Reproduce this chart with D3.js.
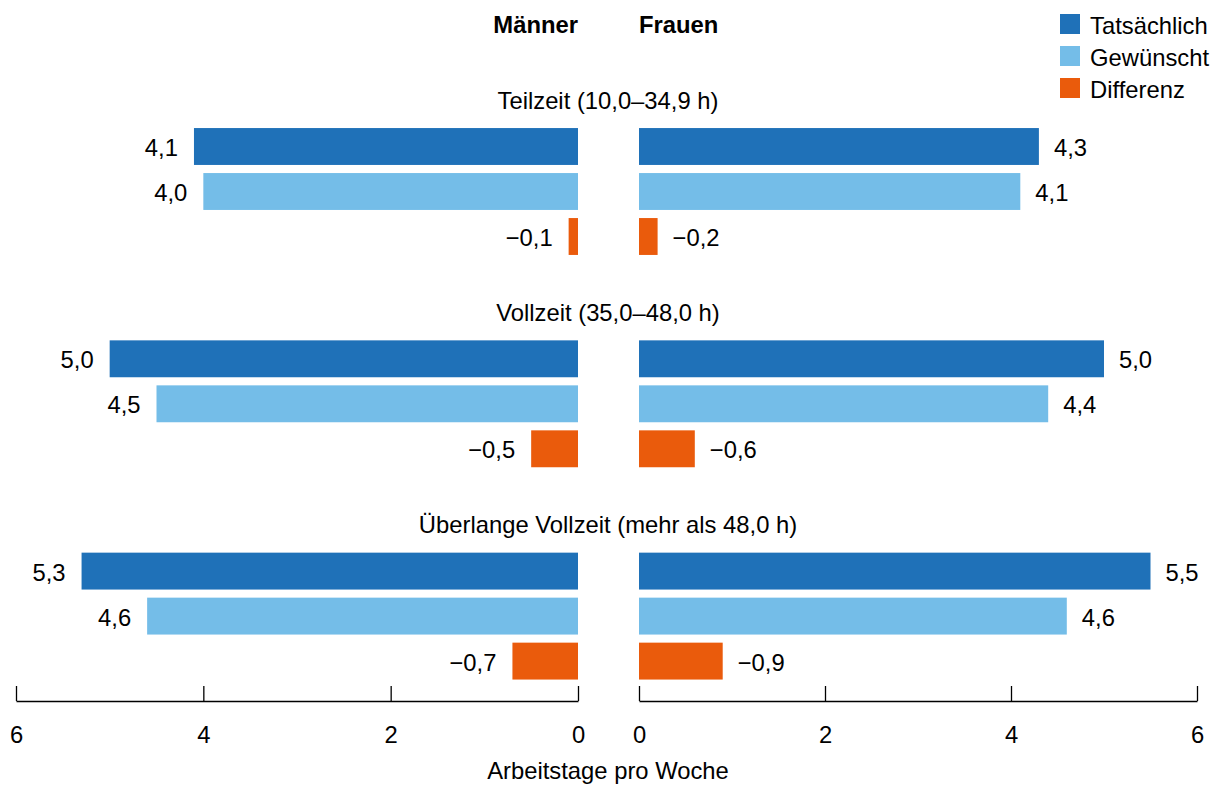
<!DOCTYPE html>
<html>
<head>
<meta charset="utf-8">
<script src="https://cdn.jsdelivr.net/npm/d3@7"></script>
<style>
  body { margin: 0; background: #fff; }
  text { font-family: "Liberation Sans", Arial, sans-serif; fill: #000; }
</style>
</head>
<body>
<div id="chart"></div>
<script>
// Data
const groups = ["Teilzeit (10,0–34,9 h)", "Vollzeit (35,0–48,0 h)", "Überlange Vollzeit (mehr als 48,0 h)"];
const series = ["Tatsächlich", "Gewünscht", "Differenz"];
const men = [[4.1, 4.0, -0.1], [5.0, 4.5, -0.5], [5.3, 4.6, -0.7]];
const women = [[4.3, 4.1, -0.2], [5.0, 4.4, -0.6], [5.5, 4.6, -0.9]];
const xTicks = [0, 2, 4, 6];

const colors = ["#1f71b8", "#74bde8", "#ea5b0c"];
const fontSize = 23.8;

const width = 1220, height = 785;
const svg = d3.select("#chart").append("svg")
    .attr("width", width)
    .attr("height", height);

// Scales
const xLeft = d3.scaleLinear().domain([0, 6]).range([578, 16]);
const xRight = d3.scaleLinear().domain([0, 6]).range([639, 1197]);

const yGroup = d3.scaleBand().domain(groups).range([84, 84 + 3 * 212.3]);
const yInner = d3.scaleBand().domain(series).range([0, 135])
    .paddingInner(0.18).paddingOuter(0.09);

const fmt = v => (v < 0 ? "\u2212" : "") + d3.format(".1f")(Math.abs(v)).replace(".", ",");

// Headers
svg.append("text")
    .attr("x", 578).attr("y", 24).attr("dy", "0.36em")
    .attr("text-anchor", "end")
    .style("font-size", fontSize + "px").style("font-weight", "bold")
    .text("Männer");
svg.append("text")
    .attr("x", 639).attr("y", 24).attr("dy", "0.36em")
    .style("font-size", fontSize + "px").style("font-weight", "bold")
    .text("Frauen");

// Groups
groups.forEach((g, gi) => {
    const g0 = yGroup(g);
    svg.append("text")
        .attr("x", 608).attr("y", g0 + 16).attr("dy", "0.36em")
        .attr("text-anchor", "middle")
        .style("font-size", fontSize + "px")
        .text(g);

    const top = g0 + 40;
    series.forEach((s, si) => {
        const vm = men[gi][si], vw = women[gi][si];
        const y = top + yInner(s), h = yInner.bandwidth();

        // Men (left)
        svg.append("rect")
            .attr("x", xLeft(Math.abs(vm))).attr("y", y)
            .attr("width", xLeft(0) - xLeft(Math.abs(vm))).attr("height", h)
            .attr("fill", colors[si]);
        svg.append("text")
            .attr("x", xLeft(Math.abs(vm)) - 16).attr("y", y + h / 2).attr("dy", "0.4em")
            .attr("text-anchor", "end")
            .style("font-size", fontSize + "px")
            .text(fmt(vm));

        // Women (right)
        svg.append("rect")
            .attr("x", xRight(0)).attr("y", y)
            .attr("width", xRight(Math.abs(vw)) - xRight(0)).attr("height", h)
            .attr("fill", colors[si]);
        svg.append("text")
            .attr("x", xRight(Math.abs(vw)) + 15).attr("y", y + h / 2).attr("dy", "0.4em")
            .style("font-size", fontSize + "px")
            .text(fmt(vw));
    });
});

// Axes
const axisY = 701;
[xLeft, xRight].forEach(sc => {
    const ax = svg.append("g")
        .attr("transform", "translate(0," + axisY + ")")
        .call(d3.axisBottom(sc).tickValues(xTicks).tickSizeInner(-15).tickSizeOuter(0).tickPadding(25)
            .tickFormat(d3.format("d")));
    ax.select(".domain").attr("stroke", "#000").attr("stroke-width", 1.3);
    ax.selectAll(".tick line").attr("stroke", "#000").attr("stroke-width", 1.3);
    ax.selectAll(".tick text").style("font-size", fontSize + "px").attr("fill", "#000");
});

svg.append("text")
    .attr("x", 608).attr("y", 779)
    .attr("text-anchor", "middle")
    .style("font-size", fontSize + "px")
    .text("Arbeitstage pro Woche");

// Legend
const legend = svg.append("g").attr("transform", "translate(1060,14)");
series.forEach((s, i) => {
    legend.append("rect")
        .attr("x", 0).attr("y", i * 32)
        .attr("width", 20).attr("height", 20)
        .attr("fill", colors[i]);
    legend.append("text")
        .attr("x", 30).attr("y", i * 32 + 11).attr("dy", "0.36em")
        .style("font-size", fontSize + "px")
        .text(s);
});
</script>
</body>
</html>
